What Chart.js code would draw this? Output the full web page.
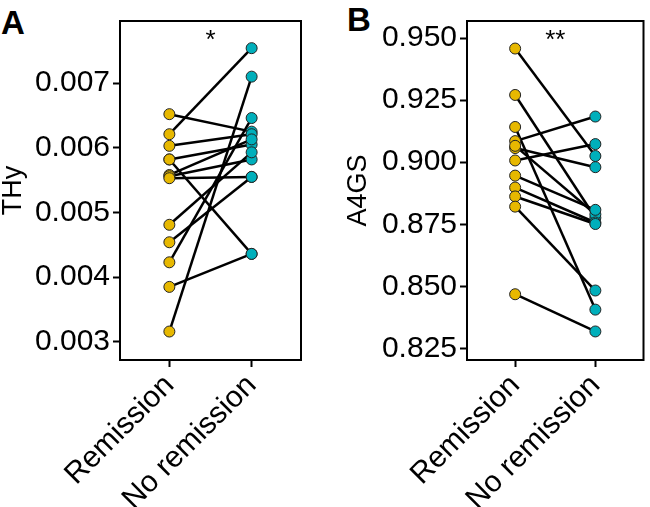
<!DOCTYPE html>
<html>
<head>
<meta charset="utf-8">
<script src="https://cdn.jsdelivr.net/npm/chart.js@4.4.1/dist/chart.umd.min.js"></script>
<style>
  body { margin: 0; background: #fff; width: 650px; height: 507px; position: relative; overflow: hidden;
         font-family: "Liberation Sans", Arial, sans-serif; }
  canvas { position: absolute; top: 0; }
  .letter { position: absolute; font-weight: bold; font-size: 33px; line-height: 1; color: #000; }
</style>
</head>
<body>
<div class="letter" style="left:1px; top:6px;">A</div>
<div class="letter" style="left:347px; top:3px;">B</div>
<canvas id="thyChart" width="320" height="507" style="left:0;"></canvas>
<canvas id="a4gsChart" width="320" height="507" style="left:330px;"></canvas>

<script>
// Categorías del eje x
const categories = ['Remission', 'No remission'];

// THy: valores emparejados (mismo índice = mismo paciente)
const thyRemission   = [0.00652, 0.00621, 0.00603, 0.00582, 0.00582, 0.00558, 0.00556, 0.00553, 0.00481, 0.00454, 0.00423, 0.00385, 0.00316];
const thyNoRemission = [0.00625, 0.00754, 0.00621, 0.00605, 0.00436, 0.00613, 0.00582, 0.00555, 0.00593, 0.00555, 0.00646, 0.00436, 0.00710];
const thyTicks = [0.003, 0.004, 0.005, 0.006, 0.007];

// A4GS: valores emparejados
const a4gsRemission   = [0.9458, 0.9271, 0.9142, 0.9085, 0.9057, 0.9066, 0.9007, 0.8946, 0.8898, 0.8862, 0.8821, 0.8468];
const a4gsNoRemission = [0.9025, 0.8776, 0.8406, 0.9184, 0.8980, 0.8790, 0.9073, 0.8808, 0.8757, 0.8751, 0.8483, 0.8318];
const a4gsTicks = [0.825, 0.850, 0.875, 0.900, 0.925, 0.950];

const GOLD = '#E7B800';
const TEAL = '#00AFBB';

// Marco negro alrededor del área del gráfico + asteriscos de significancia
const framePlugin = {
    id: 'frame',
    afterDraw(chart, args, opts) {
        const { ctx, chartArea, scales } = chart;
        ctx.save();
        ctx.strokeStyle = '#000';
        ctx.lineWidth = 2;
        ctx.strokeRect(chartArea.left, chartArea.top, chartArea.right - chartArea.left, chartArea.bottom - chartArea.top);
        ctx.fillStyle = '#000';
        ctx.font = '26px "Liberation Sans", Arial, sans-serif';
        ctx.textAlign = 'center';
        ctx.textBaseline = 'middle';
        ctx.fillText(opts.stars, scales.x.getPixelForValue(1.5), chartArea.top + 20);
        ctx.restore();
    }
};

function makePanel(id, remission, noRemission, ticks, yMin, yMax, title, stars, yWidth, titlePad, padRight) {
    // una línea por pareja
    const lines = remission.map((r, i) => ({
        type: 'line',
        data: [{ x: 1, y: r }, { x: 2, y: noRemission[i] }],
        borderColor: '#000',
        borderWidth: 2.5,
        pointRadius: 0,
        order: 1
    }));
    const points = [
        { type: 'scatter', data: remission.map(v => ({ x: 1, y: v })), backgroundColor: GOLD,
          borderColor: '#222', borderWidth: 1, pointRadius: 5.5, order: 0 },
        { type: 'scatter', data: noRemission.map(v => ({ x: 2, y: v })), backgroundColor: TEAL,
          borderColor: '#222', borderWidth: 1, pointRadius: 5.5, order: 0 }
    ];

    return new Chart(document.getElementById(id), {
        type: 'scatter',
        data: { datasets: points.concat(lines) },
        options: {
            responsive: false,
            animation: false,
            devicePixelRatio: 1,
            layout: { padding: { top: 3, right: padRight, left: 0, bottom: 0 } },
            plugins: { legend: { display: false }, tooltip: { enabled: false }, frame: { stars: stars } },
            scales: {
                x: {
                    type: 'linear', min: 0.4, max: 2.6,
                    afterBuildTicks: s => { s.ticks = [{ value: 1 }, { value: 2 }]; },
                    afterFit: s => { s.height = 147; },
                    ticks: {
                        callback: (v, i) => categories[i],
                        minRotation: 45, maxRotation: 45,
                        color: '#000', font: { size: 30, family: '"Liberation Sans", Arial' }, padding: 1
                    },
                    grid: { drawOnChartArea: false, tickColor: '#000', tickLength: 7, tickWidth: 2 },
                    border: { display: false }
                },
                y: {
                    min: yMin, max: yMax,
                    afterBuildTicks: s => { s.ticks = ticks.map(v => ({ value: v })); },
                    afterFit: s => { s.width = yWidth; },
                    ticks: {
                        callback: v => v.toFixed(3),
                        color: '#000', font: { size: 30, family: '"Liberation Sans", Arial' }, padding: 3
                    },
                    grid: { drawOnChartArea: false, tickColor: '#000', tickLength: 7, tickWidth: 2 },
                    border: { display: false },
                    title: {
                        display: true, text: title, color: '#000',
                        font: { size: 27, family: '"Liberation Sans", Arial', lineHeight: 1 },
                        padding: { top: titlePad, bottom: 0 }
                    }
                }
            }
        },
        plugins: [framePlugin]
    });
}

makePanel('thyChart', thyRemission, thyNoRemission, thyTicks, 0.00272, 0.00796, 'THy', '*', 120, 0, 19);
makePanel('a4gsChart', a4gsRemission, a4gsNoRemission, a4gsTicks, 0.8203, 0.9569, 'A4GS', '**', 137, 15, 6);
</script>
</body>
</html>
